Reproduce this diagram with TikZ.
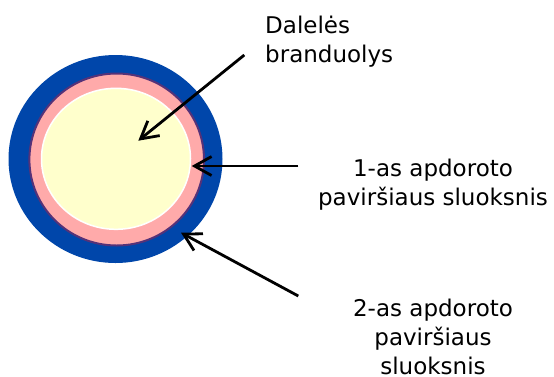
\documentclass[tikz,border=0pt]{standalone}
\usepackage{fontspec}
\setmainfont{DejaVu Sans}
\usetikzlibrary{arrows.meta}
\definecolor{shellblue}{RGB}{0,70,170}
\definecolor{layerpink}{RGB}{255,170,170}
\definecolor{layerpurple}{RGB}{85,50,120}
\definecolor{coreyellow}{RGB}{255,255,204}
\begin{document}
\begin{tikzpicture}[x=1pt,y=-1pt]
	\useasboundingbox (0,0) rectangle (554,376);
	\fill[shellblue] (115.5,159) ellipse [x radius=107,y radius=104];
	\filldraw[fill=layerpink,draw=layerpurple,line width=2pt] (116.7,159.5) ellipse [x radius=87.3,y radius=86];
	\filldraw[fill=coreyellow,draw=white,line width=1.5pt] (116,158.8) ellipse [x radius=74.5,y radius=70.5];
	\coordinate (t0) at (138.3,140.7);
	\coordinate (t1) at (191.7,166);
	\coordinate (t2) at (181,232.7);
	\node[anchor=north west,inner sep=0,align=left,font=\fontsize{23}{29}\selectfont] (core) at (265,16) {Dalelės\\branduolys};
	\node[anchor=north,inner sep=0,align=center,font=\fontsize{23}{29}\selectfont] (l1) at (433,159.2) {1-as apdoroto\\paviršiaus sluoksnis};
	\node[anchor=north,inner sep=0,align=center,font=\fontsize{23}{29}\selectfont] (l2) at (433,299.2) {2-as apdoroto\\paviršiaus\\sluoksnis};
	\coordinate (s0) at (244.3,55);
	\coordinate (s1) at (298.3,166);
	\coordinate (s2) at (298.3,296);
	\draw[-{Straight Barb[length=17pt,width=19pt]},line width=2.8pt] (s0) -- (t0);
	\draw[-{Straight Barb[length=17pt,width=19pt]},line width=2.8pt] (s1) -- (t1);
	\draw[-{Straight Barb[length=17pt,width=19pt]},line width=2.8pt] (s2) -- (t2);
\end{tikzpicture}
\end{document}
